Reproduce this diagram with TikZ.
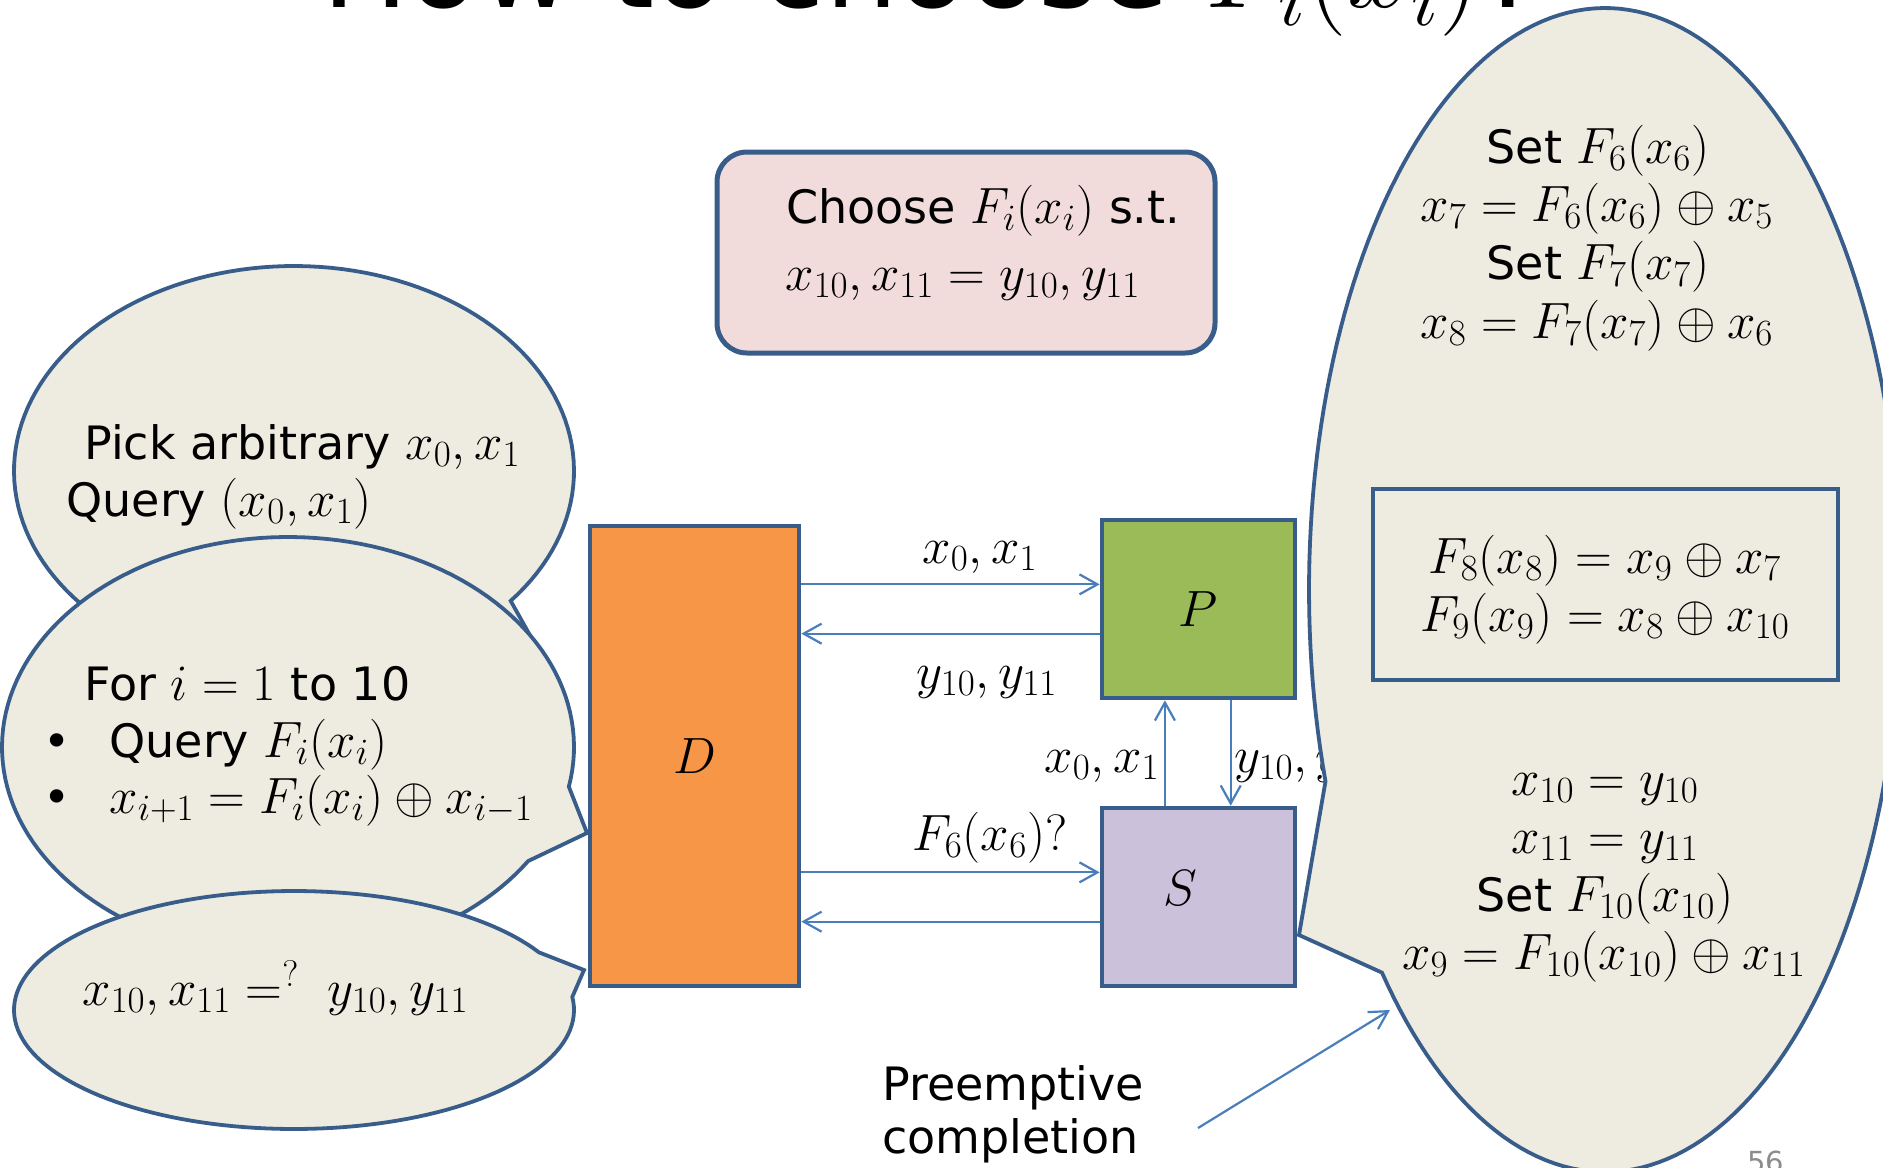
\documentclass[tikz,border=0pt]{standalone}
\usepackage{fix-cm}
\usepackage{fontspec}
\setmainfont{DejaVu Sans}
\usetikzlibrary{arrows.meta,calc}

\definecolor{outline}{HTML}{385D8A}
\definecolor{paper}{HTML}{EEECE1}
\definecolor{goalfill}{HTML}{F2DCDB}
\definecolor{dfill}{HTML}{F79646}
\definecolor{pfill}{HTML}{9BBB59}
\definecolor{sfill}{HTML}{CCC1DA}
\definecolor{link}{HTML}{4A7EBB}
\definecolor{pagenum}{HTML}{8C8C8C}

% formulas a little larger than the running text
\DeclareMathSizes{23}{25.5}{18.5}{14}
\newcommand\bodyfont{\fontsize{23}{28}\selectfont}
\newcommand\titlefont{\fontsize{57.5}{60}\selectfont}

\begin{document}
\begin{tikzpicture}[x=0.5pt,y=-0.5pt,
  callout/.style={fill=paper, draw=outline, line width=1.9pt, line join=miter},
  box/.style={draw=outline, line width=2.3pt, inner sep=0pt},
  arr/.style={draw=link, line width=1.1pt, -{Straight Barb[length=9pt,width=10pt]}},
  txt/.style={font=\bodyfont, inner sep=0pt},
]
\useasboundingbox (0,0) rectangle (1883,1167);
\clip (0,0) rectangle (1883,1167);

% slide title, mostly above the frame
\node[anchor=base west, inner sep=0pt, font=\titlefont] (title) at (322,8) {How to choose $F_i(x_i)$?};

% adversary's thought bubbles
\draw[callout] plot[domain=50.8:399.3, samples=150, variable=\t]
  ({294+280*cos(\t)}, {471+205*sin(\t)}) -- (555,680) -- cycle;
\draw[callout] plot[domain=32.9:370.9, samples=150, variable=\t]
  ({288+286*cos(\t)}, {747+210*sin(\t)}) -- (587,833) -- cycle;
\draw[callout] plot[domain=-6.3:331, samples=150, variable=\t]
  ({294+280*cos(\t)}, {1010+119*sin(\t)}) -- (584,970) -- cycle;

\node[txt, anchor=base west] (pick)  at (84,459) {Pick arbitrary $x_0,x_1$};
\node[txt, anchor=base west] (query) at (66,516) {Query $(x_0,x_1)$};

\node[txt, anchor=base west] (loop) at (84,700) {For $i=1$ to 10};
\node[txt, anchor=base] (b1) at (57,757) {•};
\node[txt, anchor=base] (b2) at (57,813) {•};
\node[txt, anchor=base west] (qf)  at (109,757) {Query $F_i(x_i)$};
\node[txt, anchor=base west] (upd) at (109,813) {$x_{i+1}=F_i(x_i)\oplus x_{i-1}$};

\node[txt, anchor=base west] (test) at (82,1005) {$x_{10},x_{11}=^{?}\;y_{10},y_{11}$};

% goal box
\node[draw=outline, fill=goalfill, line width=2.5pt, rounded corners=15pt,
      minimum width=249pt, minimum height=100.5pt, inner sep=0pt] (goal) at (966,252.5) {};
\node[txt, anchor=base west] (goal1) at (786,223) {Choose $F_i(x_i)$ s.t.};
\node[txt, anchor=base west] (goal2) at (785,290) {$x_{10},x_{11}=y_{10},y_{11}$};

% distinguisher, permutation, simulator
\node[box, fill=dfill, minimum width=104.5pt, minimum height=230pt, font=\bodyfont] (D) at (694.5,756) {$D$};
\node[box, fill=pfill, minimum width=96.5pt, minimum height=89pt, font=\bodyfont] (P) at (1198.5,609) {$P$};
\node[box, fill=sfill, minimum width=96.5pt, minimum height=89pt] (S) at (1198.5,897) {};
\node[txt] (Slabel) at (1180,888) {$S$};

% queries and answers
\coordinate (pin)  at ($(P.north west)!0.365!(P.south west)$);
\coordinate (pout) at ($(P.north west)!0.635!(P.south west)$);
\coordinate (sin)  at ($(S.north west)!0.365!(S.south west)$);
\coordinate (sout) at ($(S.north west)!0.635!(S.south west)$);
\coordinate (sup)  at ($(S.north west)!0.33!(S.north east)$);
\coordinate (sdn)  at ($(S.north west)!0.663!(S.north east)$);

\draw[arr] (D.east |- pin) -- (pin);
\draw[arr] (pout) -- (D.east |- pout);
\draw[arr] (D.east |- sin) -- (sin);
\draw[arr] (sout) -- (D.east |- sout);
\draw[arr] (sup) -- (P.south -| sup);
\draw[arr] (P.south -| sdn) -- (sdn);

\node[txt, anchor=base] (l1) at (980,563) {$x_0,x_1$};
\node[txt, anchor=base] (l2) at (987,688) {$y_{10},y_{11}$};
\node[txt, anchor=base east] (l3) at (1160,772) {$x_0,x_1$};
\node[txt, anchor=base west] (l4) at (1234,772) {$y_{10},y_{11}$};
\node[txt, anchor=base] (l5) at (990,850) {$F_6(x_6)?$};

% simulator's bubble
\draw[callout] plot[domain=160.8:498.9, samples=200, variable=\t]
  ({1605+296*cos(\t)}, {590+582*sin(\t)}) -- (1299,935) -- cycle;

\node[txt, anchor=base] (s1) at (1598,163) {Set $F_6(x_6)$};
\node[txt, anchor=base] (s2) at (1597,221) {$x_7=F_6(x_6)\oplus x_5$};
\node[txt, anchor=base] (s3) at (1598,279) {Set $F_7(x_7)$};
\node[txt, anchor=base] (s4) at (1597,338) {$x_8=F_7(x_7)\oplus x_6$};

\node[box, minimum width=232.5pt, minimum height=95.5pt] (adapt) at (1605.5,584.5) {};
\node[txt, anchor=base] (a1) at (1605,573) {$F_8(x_8)=x_9\oplus x_7$};
\node[txt, anchor=base] (a2) at (1605,631) {$F_9(x_9)=x_8\oplus x_{10}$};

\node[txt, anchor=base] (s5) at (1605,795) {$x_{10}=y_{10}$};
\node[txt, anchor=base] (s6) at (1605,853) {$x_{11}=y_{11}$};
\node[txt, anchor=base] (s7) at (1605,911) {Set $F_{10}(x_{10})$};
\node[txt, anchor=base] (s8) at (1604,969) {$x_9=F_{10}(x_{10})\oplus x_{11}$};

% annotation
\node[txt, anchor=base west] (pre1) at (882,1100) {Preemptive};
\node[txt, anchor=base west] (pre2) at (882,1153) {completion};
\coordinate (preA) at (1198,1128);
\coordinate (preB) at (1390,1010);
\draw[arr] (preA) -- (preB);

% page number
\node[anchor=base west, inner sep=0pt, text=pagenum, font=\fontsize{14.5}{16}\selectfont] (pg) at (1747,1172) {56};
\end{tikzpicture}
\end{document}
